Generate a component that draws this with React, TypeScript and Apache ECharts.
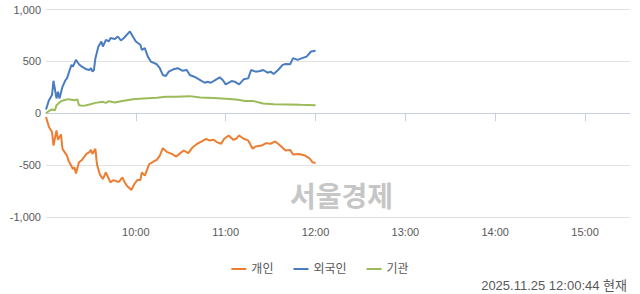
import React, { useEffect, useRef } from "react";
import * as echarts from "echarts";

// Category labels every 30 minutes from 09:00 to 15:30
const timeLabels = [
  "09:00", "09:30", "10:00", "10:30", "11:00", "11:30", "12:00",
  "12:30", "13:00", "13:30", "14:00", "14:30", "15:00", "15:30",
];
const yTicks = [-1000, -500, 0, 500, 1000];

// [minutes since 09:00, net buying]
const individualData: [number, number][] = [
  [0, -36], [2, -133], [4, -181], [5, -311], [7, -165], [8, -255], [10, -204], [11, -343],
  [14, -408], [15, -456], [18, -537], [19, -521], [20, -580], [22, -473], [24, -450],
  [27, -392], [29, -375], [30, -353], [31, -392], [33, -343], [34, -489], [36, -592],
  [38, -634], [40, -570], [42, -634], [43, -667], [45, -644], [48, -660], [49, -657],
  [51, -618], [52, -650], [54, -698], [57, -740], [59, -682], [61, -644], [63, -644],
  [64, -570], [66, -601], [69, -489], [72, -463], [74, -450], [76, -408], [78, -337],
  [81, -375], [84, -392], [87, -417], [89, -392], [92, -359], [95, -385], [98, -327],
  [101, -294], [104, -272], [107, -246], [109, -262], [112, -255], [114, -278], [117, -294],
  [119, -246], [122, -214], [125, -255], [127, -246], [129, -214], [132, -246], [135, -262],
  [138, -343], [140, -320], [144, -311], [147, -288], [150, -294], [153, -272], [155, -294],
  [158, -333], [160, -359], [163, -353], [165, -398], [169, -392], [173, -408], [176, -434],
  [178, -473], [180, -479],
];
const foreignData: [number, number][] = [
  [0, 36], [2, 126], [4, 175], [5, 313], [7, 143], [8, 207], [9, 143], [11, 255], [13, 320],
  [14, 336], [17, 466], [18, 449], [20, 514], [22, 472], [24, 449], [27, 424], [29, 417],
  [30, 434], [31, 401], [32, 417], [33, 531], [35, 643], [37, 692], [38, 643], [40, 708],
  [42, 692], [43, 725], [46, 715], [48, 740], [50, 701], [52, 725], [55, 773], [56, 789],
  [58, 740], [60, 692], [63, 660], [64, 611], [66, 628], [68, 546], [70, 498], [74, 472],
  [76, 434], [78, 369], [80, 359], [82, 401], [85, 424], [88, 434], [91, 410], [94, 417],
  [96, 369], [99, 352], [103, 320], [106, 294], [108, 304], [110, 294], [113, 320], [116, 346],
  [118, 320], [120, 278], [124, 310], [126, 304], [129, 278], [132, 327], [135, 336],
  [137, 417], [140, 401], [143, 407], [145, 417], [148, 391], [150, 401], [152, 378],
  [155, 417], [158, 466], [160, 475], [163, 472], [165, 531], [168, 514], [171, 531],
  [174, 546], [177, 595], [180, 602],
];
const institutionData: [number, number][] = [
  [0, 0], [2, 22], [4, 36], [6, 29], [7, 78], [10, 116], [12, 126], [15, 136], [19, 126],
  [21, 133], [22, 78], [25, 71], [29, 84], [33, 100], [38, 110], [40, 100], [42, 116],
  [46, 104], [51, 119], [58, 136], [65, 143], [74, 149], [80, 158], [87, 158], [96, 165],
  [103, 152], [112, 146], [120, 139], [127, 133], [133, 119], [138, 119], [145, 94],
  [152, 87], [161, 84], [170, 81], [180, 78],
];
const seriesNames = ["개인", "외국인", "기관"];
const stampText = "2025.11.25 12:00:44 현재";
const watermarkText = "서울경제";

const FONT = "'Liberation Sans', Arial, 'Noto Sans CJK KR', sans-serif";

export default function App() {
  const ref = useRef<HTMLDivElement>(null);
  useEffect(() => {
    if (!ref.current) return;
    const chart = echarts.init(ref.current, undefined, { renderer: "svg" });
    const showIdx = (i: number) => i % 2 === 0 && i > 0 && i < timeLabels.length - 1;
    chart.setOption({
      animation: false,
      backgroundColor: "#ffffff",
      textStyle: { fontFamily: FONT },
      grid: { left: 46, right: 10, top: 9.5, bottom: 77, containLabel: false },
      legend: {
        data: seriesNames,
        left: "center",
        top: 258,
        icon: "rect",
        itemWidth: 15,
        itemHeight: 2,
        itemGap: 20,
        textStyle: { color: "#595959", fontSize: 12, fontFamily: FONT },
      },
      xAxis: [
        {
          type: "category",
          data: timeLabels,
          boundaryGap: false,
          axisLine: { show: true, lineStyle: { color: "#c8d1e3", width: 1 } },
          axisTick: { show: true, length: 8, interval: (i: number) => showIdx(i), lineStyle: { color: "#c8d1e3" } },
          axisLabel: {
            interval: (i: number) => showIdx(i),
            color: "#595959",
            fontSize: 11,
            margin: 9,
            fontFamily: FONT,
          },
          splitLine: { show: false },
        },
        {
          type: "value",
          min: 0,
          max: 390,
          show: false,
          position: "bottom",
        },
      ],
      yAxis: {
        type: "value",
        min: yTicks[0],
        max: yTicks[yTicks.length - 1],
        interval: 500,
        axisLine: { show: false },
        axisTick: { show: false },
        axisLabel: {
          color: "#595959",
          fontSize: 11,
          margin: 5,
          fontFamily: FONT,
          formatter: (v: number) => v.toLocaleString("en-US"),
        },
        splitLine: { lineStyle: { color: "#e2e2e2", width: 1 } },
      },
      graphic: [
        {
          type: "text",
          left: 290,
          top: 181,
          z: 0,
          style: {
            text: watermarkText,
            fill: "#c6c6c6",
            font: "bold 28px 'Noto Sans CJK KR', sans-serif",
          },
        },
        {
          type: "text",
          right: 13,
          top: 279,
          style: {
            text: stampText,
            fill: "#595959",
            font: `13px ${FONT}`,
          },
        },
      ],
      series: [
        {
          name: seriesNames[0],
          type: "line",
          xAxisIndex: 1,
          data: individualData,
          showSymbol: false,
          symbol: "none",
          lineStyle: { color: "#ED7D31", width: 2 },
          itemStyle: { color: "#ED7D31" },
        },
        {
          name: seriesNames[1],
          type: "line",
          xAxisIndex: 1,
          data: foreignData,
          showSymbol: false,
          symbol: "none",
          lineStyle: { color: "#4A7DC0", width: 2 },
          itemStyle: { color: "#4A7DC0" },
        },
        {
          name: seriesNames[2],
          type: "line",
          xAxisIndex: 1,
          data: institutionData,
          showSymbol: false,
          symbol: "none",
          lineStyle: { color: "#9BBB59", width: 2 },
          itemStyle: { color: "#9BBB59" },
        },
      ],
    });
    return () => chart.dispose();
  }, []);
  return (
    <div
      ref={ref}
      style={{ position: "fixed", left: 0, top: 0, width: 640, height: 294, background: "#fff" }}
    />
  );
}
